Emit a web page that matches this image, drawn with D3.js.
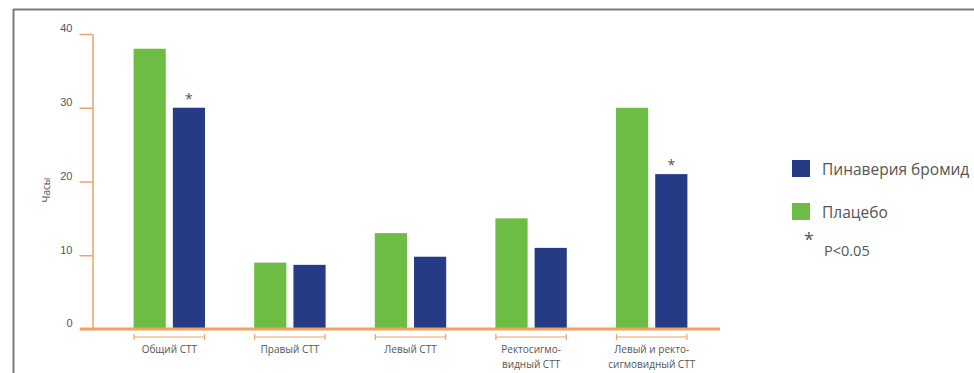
<!DOCTYPE html>
<html>
<head>
<meta charset="utf-8">
<script src="https://cdn.jsdelivr.net/npm/d3@7"></script>
<style>
  html, body { margin: 0; padding: 0; background: #fff; }
  svg { display: block; font-family: "Open Sans", "Noto Sans", sans-serif; }
</style>
</head>
<body>
<svg id="chart" width="974" height="373"></svg>
<script>
// Time values (hours) per segment of the colon
const categories = [
  ["Общий СТТ"],
  ["Правый СТТ"],
  ["Левый СТТ"],
  ["Ректосигмо-", "видный СТТ"],
  ["Левый и ректо-", "сигмовидный СТТ"]
];
const placeboValues = [38, 9, 13, 15, 30];
const pinaveriumValues = [30, 8.7, 9.8, 11, 21];
const significant = [true, false, false, false, true];
const yTicks = [0, 10, 20, 30, 40];
const seriesNames = ["Плацебо", "Пинаверия бромид"];
const seriesColors = ["#6dbd45", "#253b85"];

const svg = d3.select("#chart");
const axisColor = "#eba36a";
const textColor = "#555";

// frame lines (top and left)
svg.append("line").attr("x1", 13).attr("x2", 974).attr("y1", 9.5).attr("y2", 9.5)
  .attr("stroke", "#7a7a7a").attr("stroke-width", 2);
svg.append("line").attr("x1", 13.5).attr("x2", 13.5).attr("y1", 9).attr("y2", 373)
  .attr("stroke", "#7a7a7a").attr("stroke-width", 2);

const keys = categories.map((c, i) => i);
const x = d3.scaleBand().domain(keys).range([109, 712]).paddingInner(0.408).paddingOuter(0.204);
const xs = d3.scaleBand().domain([0, 1]).range([0, x.bandwidth()]).paddingInner(0.18);
const y = d3.scaleLinear().domain([0, 40]).range([329, 34]);

// y axis
const yAxis = d3.axisLeft(y).tickValues(yTicks).tickSize(13).tickSizeOuter(0).tickPadding(7);
const gy = svg.append("g").attr("transform", "translate(92.5,0)").call(yAxis);
gy.select(".domain").attr("stroke", axisColor).attr("stroke-width", 1.5);
gy.selectAll(".tick line").attr("stroke", axisColor).attr("stroke-width", 1.5);
gy.selectAll(".tick text").attr("fill", textColor).attr("font-size", 11).attr("dy", "-0.2em");

svg.append("text")
  .attr("transform", "translate(50,190) rotate(-90)")
  .attr("text-anchor", "middle")
  .attr("fill", textColor).attr("font-size", 10)
  .text("Часы");

// bars
const groups = svg.append("g").selectAll("g").data(keys).join("g")
  .attr("transform", i => `translate(${x(i)},0)`);
groups.selectAll("rect")
  .data(i => [placeboValues[i], pinaveriumValues[i]].map((v, s) => ({ v, s })))
  .join("rect")
  .attr("x", d => xs(d.s))
  .attr("width", xs.bandwidth())
  .attr("y", d => y(d.v))
  .attr("height", d => y(0) - y(d.v))
  .attr("fill", d => seriesColors[d.s]);

// significance markers above the treatment bar
groups.filter(i => significant[i]).append("text")
  .attr("x", xs(1) + xs.bandwidth() / 2)
  .attr("y", i => y(pinaveriumValues[i]) - 4)
  .attr("text-anchor", "middle")
  .attr("fill", "#555").attr("font-size", 14)
  .text("*");

// baseline
svg.append("line").attr("x1", 80).attr("x2", 720).attr("y1", y(0)).attr("y2", y(0))
  .attr("stroke", "#f0a35c").attr("stroke-width", 3);

// category brackets and labels
const by = 337;
groups.append("path")
  .attr("d", `M0.5,${by - 3}V${by + 3}M0.5,${by}H${x.bandwidth() - 0.5}M${x.bandwidth() - 0.5},${by - 3}V${by + 3}`)
  .attr("fill", "none").attr("stroke", axisColor).attr("stroke-width", 1.2);
groups.append("text")
  .attr("x", x.bandwidth() / 2)
  .attr("y", 353)
  .attr("text-anchor", "middle")
  .attr("fill", textColor).attr("font-size", 10)
  .selectAll("tspan").data(i => categories[i]).join("tspan")
  .attr("x", x.bandwidth() / 2)
  .attr("dy", (d, j) => j === 0 ? 0 : 15)
  .text(d => d);

// legend
const legend = svg.append("g");
const legendItems = [
  { name: seriesNames[1], color: seriesColors[1], y: 160 },
  { name: seriesNames[0], color: seriesColors[0], y: 203 }
];
legendItems.forEach(it => {
  legend.append("rect").attr("x", 792).attr("y", it.y).attr("width", 18).attr("height", 17).attr("fill", it.color);
  legend.append("text").attr("x", 822).attr("y", it.y + 14.5).attr("fill", textColor)
    .attr("font-size", 15.5).text(it.name);
});
legend.append("text").attr("x", 804).attr("y", 246).attr("fill", textColor).attr("font-size", 18).text("*");
legend.append("text").attr("x", 824).attr("y", 256).attr("fill", textColor).attr("font-size", 14.5).text("P<0.05");
</script>
</body>
</html>
